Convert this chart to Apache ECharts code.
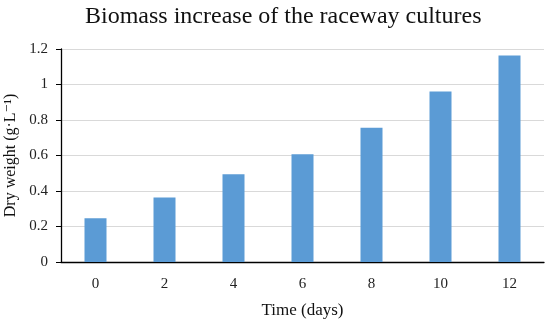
<!DOCTYPE html>
<html><head><meta charset="utf-8">
<script src="https://cdn.jsdelivr.net/npm/echarts@6/dist/echarts.min.js"></script>
<style>html,body{margin:0;padding:0;background:#fff}#c{width:550px;height:324px}</style>
</head><body><div id="c"></div>
<script>
const categories = ['0','2','4','6','8','10','12'];
const dryWeight = [0.246, 0.364, 0.494, 0.607, 0.757, 0.96, 1.164];
const yTicks = [0, 0.2, 0.4, 0.6, 0.8, 1, 1.2];
const FONT = '"Liberation Serif", "DejaVu Serif", serif';
const chart = echarts.init(document.getElementById('c'));
chart.setOption({
  animation: false,
  title: { text: 'Biomass increase of the raceway cultures', left: 80, top: 0,
    textStyle: { fontFamily: FONT, fontSize: 24, fontWeight: 'normal', color: '#111' } },
  grid: { left: 61, right: 6, top: 49, bottom: 62, containLabel: false, outerBoundsMode: 'none' },
  xAxis: { type: 'category', data: categories,
    name: 'Time (days)', nameLocation: 'middle', nameGap: 40,
    nameTextStyle: { fontFamily: FONT, fontSize: 17, color: '#111' },
    axisLine: { lineStyle: { color: '#000', width: 1.3 } },
    axisTick: { alignWithLabel: true, length: 5, lineStyle: { color: '#000' } },
    axisLabel: { fontFamily: FONT, fontSize: 15, color: '#222', margin: 15 } },
  yAxis: { type: 'value', min: 0, max: 1.2, interval: 0.2,
    name: 'Dry weight (g·L⁻¹)', nameLocation: 'middle', nameGap: 38,
    nameTextStyle: { fontFamily: FONT, fontSize: 16, color: '#111' },
    axisLine: { show: true, lineStyle: { color: '#000', width: 1.3 } },
    axisTick: { show: true, length: 5, lineStyle: { color: '#000' } },
    axisLabel: { fontFamily: FONT, fontSize: 15, color: '#222', margin: 13,
      formatter: v => { const t = yTicks.find(x => Math.abs(x - v) < 1e-9); return t === undefined ? '' : String(t); } },
    splitLine: { lineStyle: { color: '#d9d9d9', width: 1 } } },
  series: [{ type: 'bar', data: dryWeight, barWidth: 22,
    itemStyle: { color: '#5b9bd5' } }]
});
</script></body></html>
